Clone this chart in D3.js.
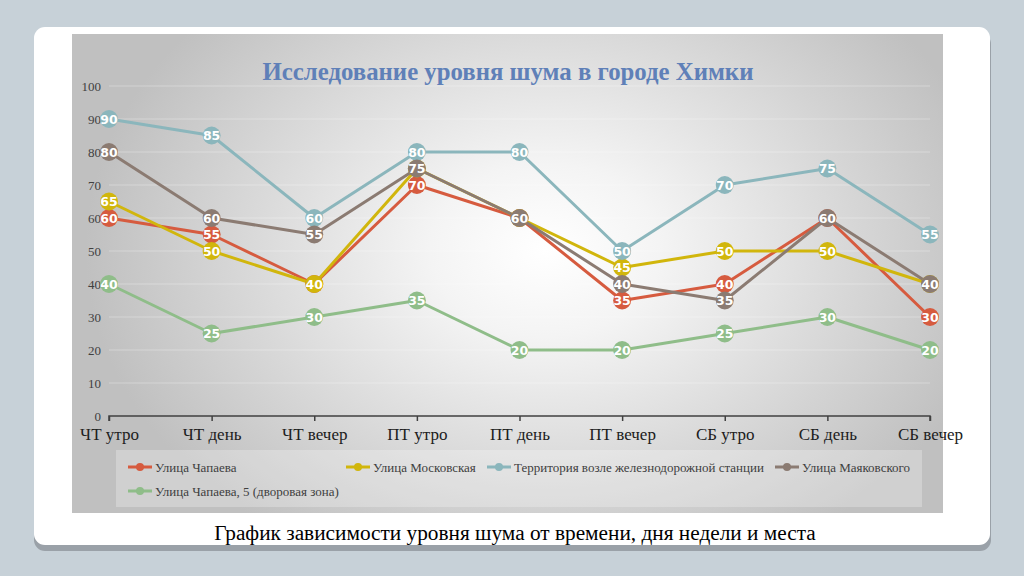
<!DOCTYPE html>
<html>
<head>
<meta charset="utf-8">
<script src="https://cdn.jsdelivr.net/npm/d3@7"></script>
<style>
  html, body { margin: 0; padding: 0; background: #c7d1d8; }
  svg { display: block; }
</style>
</head>
<body>
<svg id="chart" width="1024" height="576"></svg>
<script>
// categories and series
var categories = ['ЧТ утро', 'ЧТ день', 'ЧТ вечер', 'ПТ утро', 'ПТ день', 'ПТ вечер', 'СБ утро', 'СБ день', 'СБ вечер'];
var chapaeva = [60, 55, 40, 70, 60, 35, 40, 60, 30];
var moskovskaya = [65, 50, 40, 75, 60, 45, 50, 50, 40];
var station = [90, 85, 60, 80, 80, 50, 70, 75, 55];
var mayakovskogo = [80, 60, 55, 75, 60, 40, 35, 60, 40];
var chapaeva5 = [40, 25, 30, 35, 20, 20, 25, 30, 20];
var yTicks = [0, 10, 20, 30, 40, 50, 60, 70, 80, 90, 100];

var series = [
    { name: 'Улица Чапаева', values: chapaeva, color: '#d65b3f' },
    { name: 'Улица Московская', values: moskovskaya, color: '#d1b60c' },
    { name: 'Территория возле железнодорожной станции', values: station, color: '#8bb6bc' },
    { name: 'Улица Маяковского', values: mayakovskogo, color: '#8b7b72' },
    { name: 'Улица Чапаева, 5 (дворовая зона)', values: chapaeva5, color: '#8fbd89' }
];

var svg = d3.select('#chart');
var defs = svg.append('defs');

// card shadow + card
svg.append('rect')
    .attr('x', 34).attr('y', 33).attr('width', 957).attr('height', 518)
    .attr('rx', 11).attr('fill', '#9aa1a8');
svg.append('rect')
    .attr('x', 34).attr('y', 27).attr('width', 956).attr('height', 518)
    .attr('rx', 11).attr('fill', '#ffffff');

// chart background gradient
var grad = defs.append('radialGradient')
    .attr('id', 'bg')
    .attr('gradientUnits', 'userSpaceOnUse')
    .attr('cx', 545).attr('cy', 250).attr('r', 460)
    .attr('gradientTransform', 'translate(545,250) scale(1,0.75) translate(-545,-250)');
grad.append('stop').attr('offset', '0%').attr('stop-color', '#ffffff');
grad.append('stop').attr('offset', '25%').attr('stop-color', '#f4f4f4');
grad.append('stop').attr('offset', '100%').attr('stop-color', '#c0c0c0');

svg.append('rect')
    .attr('x', 72).attr('y', 34).attr('width', 871).attr('height', 479)
    .attr('fill', 'url(#bg)');

// legend box
svg.append('rect')
    .attr('x', 116).attr('y', 450).attr('width', 806).attr('height', 57)
    .attr('fill', '#ffffff').attr('fill-opacity', 0.25);

// title
svg.append('text')
    .attr('x', 508).attr('y', 80)
    .attr('text-anchor', 'middle')
    .attr('font-family', '"Liberation Serif", "Times New Roman", serif')
    .attr('font-weight', 'bold')
    .attr('font-size', 24.8)
    .attr('fill', '#5f80b8')
    .text('Исследование уровня шума в городе Химки');

// scales
var x = d3.scalePoint().domain(categories).range([109, 930]);
var y = d3.scaleLinear().domain([0, 100]).range([416, 86]);

// gridlines
svg.append('g')
    .selectAll('line')
    .data(yTicks.slice(1))
    .enter().append('line')
    .attr('x1', 109).attr('x2', 930)
    .attr('y1', function (d) { return y(d); })
    .attr('y2', function (d) { return y(d); })
    .attr('stroke', '#ffffff').attr('stroke-opacity', 0.3).attr('stroke-width', 1);

// y axis labels (no line)
var yAxis = d3.axisLeft(y).tickValues(yTicks).tickSize(0).tickPadding(0);
var gy = svg.append('g').attr('transform', 'translate(101,0)').call(yAxis);
gy.select('.domain').remove();
gy.selectAll('text')
    .attr('font-family', '"Liberation Serif", "Times New Roman", serif')
    .attr('font-size', 13)
    .attr('fill', '#404040');

// x axis
var xAxis = d3.axisBottom(x).tickSize(5).tickPadding(7);
var gx = svg.append('g').attr('transform', 'translate(0,416)').call(xAxis);
gx.select('.domain').attr('stroke', '#404040').attr('stroke-width', 1.5)
    .attr('d', 'M109,5V0H930V5');
gx.selectAll('.tick line').attr('stroke', '#404040').attr('stroke-width', 1.5);
gx.selectAll('text')
    .attr('font-family', '"Liberation Serif", "Times New Roman", serif')
    .attr('font-size', 17)
    .attr('fill', '#202020');

// lines
var line = d3.line()
    .x(function (d, i) { return x(categories[i]); })
    .y(function (d) { return y(d); });

series.forEach(function (s) {
    svg.append('path')
        .datum(s.values)
        .attr('d', line)
        .attr('fill', 'none')
        .attr('stroke', s.color)
        .attr('stroke-width', 3)
        .attr('stroke-linejoin', 'round');
});

// markers with value labels
series.forEach(function (s) {
    var g = svg.append('g');
    var pts = g.selectAll('g').data(s.values).enter().append('g')
        .attr('transform', function (d, i) {
            return 'translate(' + x(categories[i]) + ',' + y(d) + ')';
        });
    pts.append('circle').attr('r', 9).attr('fill', s.color);
    pts.append('text')
        .attr('text-anchor', 'middle')
        .attr('dy', '0.36em')
        .attr('font-family', '"DejaVu Sans", Verdana, sans-serif')
        .attr('font-weight', 'bold')
        .attr('font-size', 12.5)
        .attr('fill', '#ffffff')
        .text(function (d) { return d; });
});

// legend
var legendPos = [
    { x: 128, y: 467 }, { x: 346, y: 467 }, { x: 487, y: 467 }, { x: 775, y: 467 },
    { x: 128, y: 491 }
];
series.forEach(function (s, i) {
    var p = legendPos[i];
    var lg = svg.append('g').attr('transform', 'translate(' + p.x + ',' + p.y + ')');
    lg.append('line').attr('x1', 0).attr('x2', 24).attr('y1', 0).attr('y2', 0)
        .attr('stroke', s.color).attr('stroke-width', 3);
    lg.append('circle').attr('cx', 12).attr('cy', 0).attr('r', 4).attr('fill', s.color);
    lg.append('text')
        .attr('x', 27).attr('y', 0).attr('dy', '0.35em')
        .attr('font-family', '"Liberation Serif", "Times New Roman", serif')
        .attr('font-size', 13)
        .attr('fill', '#404040')
        .text(s.name);
});

// caption
svg.append('text')
    .attr('x', 515).attr('y', 540)
    .attr('text-anchor', 'middle')
    .attr('font-family', '"Liberation Serif", "Times New Roman", serif')
    .attr('font-size', 21.3)
    .attr('fill', '#000000')
    .text('График зависимости уровня шума от времени, дня недели и места');
</script>
</body>
</html>
